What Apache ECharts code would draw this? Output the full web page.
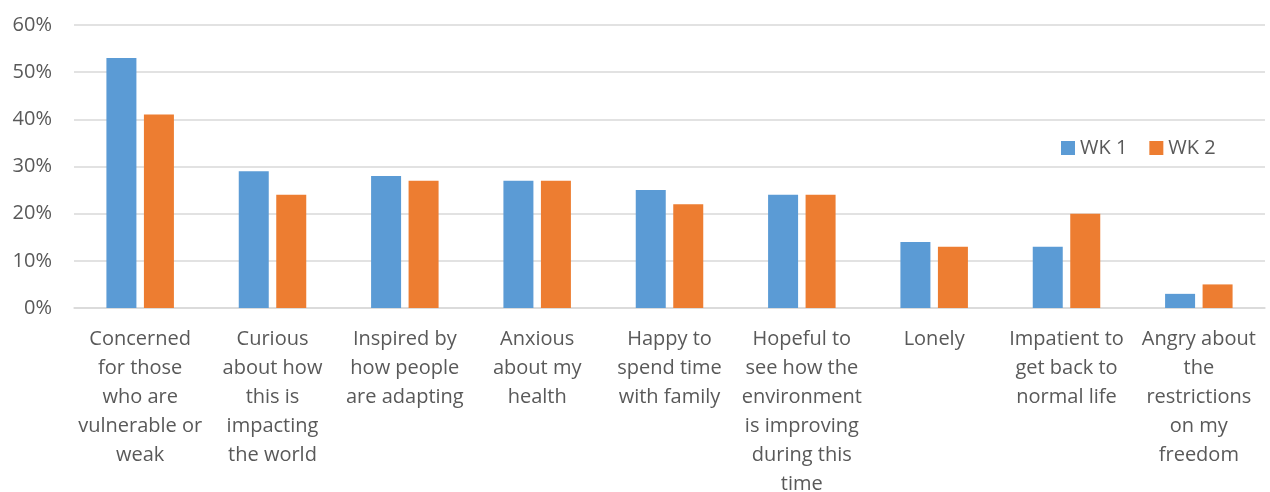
<!DOCTYPE html>
<html><head><meta charset="utf-8">
<script src="https://cdn.jsdelivr.net/npm/echarts@6/dist/echarts.min.js"></script>
<style>html,body{margin:0;padding:0;background:#fff}#c{width:1270px;height:492px}</style>
</head><body><div id="c"></div>
<script>
const categories = [
  "Concerned\nfor those\nwho are\nvulnerable or\nweak",
  "Curious\nabout how\nthis is\nimpacting\nthe world",
  "Inspired by\nhow people\nare adapting",
  "Anxious\nabout my\nhealth",
  "Happy to\nspend time\nwith family",
  "Hopeful to\nsee how the\nenvironment\nis improving\nduring this\ntime",
  "Lonely",
  "Impatient to\nget back to\nnormal life",
  "Angry about\nthe\nrestrictions\non my\nfreedom"
];
const wk1 = [53, 29, 28, 27, 25, 24, 14, 13, 3];
const wk2 = [41, 24, 27, 27, 22, 24, 13, 20, 5];
const seriesNames = ["WK 1", "WK 2"];
const FONT = "'Open Sans', 'Liberation Sans', sans-serif";
const chart = echarts.init(document.getElementById('c'), null, {renderer: 'canvas'});
chart.setOption({
  animation: false,
  grid: {left: 74, right: 5, top: 25, bottom: 184, containLabel: false, outerBoundsMode: 'none'},
  legend: {
    data: seriesNames, left: 1056, top: 133, itemWidth: 14, itemHeight: 14, itemGap: 22,
    icon: 'rect',
    textStyle: {fontFamily: FONT, fontSize: 20, color: '#595959'}
  },
  xAxis: {
    type: 'category', data: categories,
    axisLine: {lineStyle: {color: '#D9D9D9', width: 1.5}},
    axisTick: {show: false},
    axisLabel: {interval: 0, margin: 17, lineHeight: 29, fontFamily: FONT, fontSize: 20, color: '#595959', verticalAlign: 'top'}
  },
  yAxis: {
    type: 'value', min: 0, max: 60, interval: 10,
    axisLine: {show: false}, axisTick: {show: false},
    splitLine: {lineStyle: {color: '#D9D9D9', width: 1.5}},
    axisLabel: {formatter: '{value}%', margin: 22, fontFamily: FONT, fontSize: 20, color: '#595959'}
  },
  series: [
    {name: seriesNames[0], type: 'bar', data: wk1, barWidth: 30, barGap: '25%', itemStyle: {color: '#5B9BD5'}},
    {name: seriesNames[1], type: 'bar', data: wk2, barWidth: 30, barGap: '25%', itemStyle: {color: '#ED7D31'}}
  ]
});
</script></body></html>
